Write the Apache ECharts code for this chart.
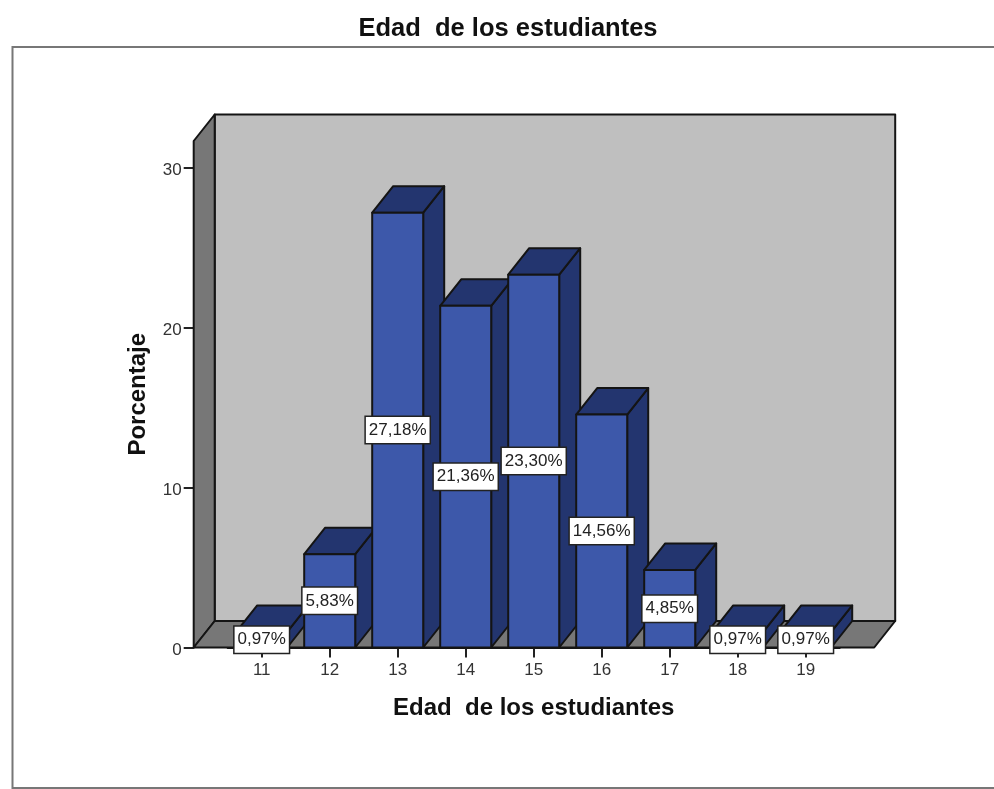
<!DOCTYPE html>
<html>
<head>
<meta charset="UTF-8">
<title>Edad de los estudiantes</title>
<script src="https://cdn.jsdelivr.net/npm/echarts@6/dist/echarts.min.js"></script>
<style>
html, body { margin: 0; padding: 0; background: #fff; }
#main { width: 994px; height: 789px; }
</style>
</head>
<body>
<div id="main"></div>
<script>
var edades = ['11', '12', '13', '14', '15', '16', '17', '18', '19'];
var porcentajes = [0.97, 5.83, 27.18, 21.36, 23.30, 14.56, 4.85, 0.97, 0.97];
var tituloTexto = 'Edad  de los estudiantes';
var ejeY = 'Porcentaje';

var FONT = '"Liberation Sans", Arial, sans-serif';
var DX = 21, DY = 26.5;
var LINEA = { stroke: '#141414', lineWidth: 2, lineJoin: 'round' };

function poly(points, fill) {
	return {
		type: 'polygon',
		shape: { points: points },
		style: Object.assign({ fill: fill }, LINEA)
	};
}

// paredes y suelo del grafico 3D
function renderWalls(params, api) {
	var g = params.coordSys;
	var l = g.x - 34, r = g.x + g.width + 34.5, t = g.y, b = g.y + g.height;
	return {
		type: 'group',
		children: [
			poly([[l + DX, t - DY], [r + DX, t - DY], [r + DX, b - DY], [l + DX, b - DY]], '#bfbfbf'),
			poly([[l, t], [l + DX, t - DY], [l + DX, b - DY], [l, b]], '#777777'),
			poly([[l, b], [l + DX, b - DY], [r + DX, b - DY], [r, b]], '#777777')
		]
	};
}

function renderBar(params, api) {
	var top = api.coord([api.value(0), api.value(1)]);
	var base = api.coord([api.value(0), 0]);
	var w = api.size([1, 0])[0] * 0.75;
	var x0 = top[0] - w / 2, x1 = top[0] + w / 2, y0 = top[1], y1 = base[1];
	return {
		type: 'group',
		children: [
			poly([[x1, y1], [x1 + DX, y1 - DY], [x1 + DX, y0 - DY], [x1, y0]], '#23356f'),
			poly([[x0, y0], [x0 + DX, y0 - DY], [x1 + DX, y0 - DY], [x1, y0]], '#23356f'),
			poly([[x0, y0], [x1, y0], [x1, y1], [x0, y1]], '#3d58aa')
		]
	};
}

function renderLabel(params, api) {
	var v = api.value(1);
	var p = api.coord([api.value(0), v / 2]);
	return {
		type: 'text',
		x: p[0],
		y: p[1],
		style: {
			text: v.toFixed(2).replace('.', ',') + '%',
			font: '17px ' + FONT,
			fill: '#222',
			align: 'center',
			verticalAlign: 'middle',
			backgroundColor: '#fff',
			borderColor: '#222',
			borderWidth: 1.5,
			padding: [4, 3, 5, 3]
		}
	};
}

var puntos = edades.map(function (e, i) { return [i, porcentajes[i]]; });

var myChart = echarts.init(document.getElementById('main'), null, { renderer: 'canvas' });
myChart.setOption({
	backgroundColor: '#fff',
	animation: false,
	title: {
		text: tituloTexto,
		left: 503,
		top: 11,
		textAlign: 'center',
		textStyle: { fontFamily: FONT, fontSize: 25.5, fontWeight: 'bold', color: '#111' }
	},
	grid: { left: 227.7, top: 141, width: 612, height: 506.5 },
	xAxis: {
		type: 'category',
		data: edades,
		name: tituloTexto,
		nameLocation: 'middle',
		nameGap: 49,
		nameTextStyle: { fontFamily: FONT, fontSize: 24, fontWeight: 'bold', color: '#111' },
		axisLine: { show: true, lineStyle: { color: '#141414', width: 2 } },
		axisTick: { show: true, alignWithLabel: true, length: 10, lineStyle: { color: '#222', width: 2 } },
		axisLabel: { show: true, margin: 14, fontFamily: FONT, fontSize: 17, color: '#333' }
	},
	yAxis: {
		type: 'value',
		min: 0,
		max: 31.66,
		interval: 10,
		offset: 34,
		name: ejeY,
		nameLocation: 'middle',
		nameGap: 43,
		nameTextStyle: { fontFamily: FONT, fontSize: 24, fontWeight: 'bold', color: '#111' },
		splitLine: { show: false },
		axisLine: { show: true, lineStyle: { color: '#141414', width: 2 } },
		axisTick: { show: true, length: 10, lineStyle: { color: '#222', width: 2 } },
		axisLabel: { margin: 12, verticalAlign: 'top', lineHeight: 5, fontFamily: FONT, fontSize: 17, color: '#333', showMaxLabel: false }
	},
	series: [
		{ type: 'custom', z: 1, clip: false, silent: true, renderItem: renderWalls, data: [[0, 0]] },
		{ type: 'custom', z: 2, clip: false, renderItem: renderBar, data: puntos },
		{ type: 'custom', z: 3, clip: false, renderItem: renderLabel, data: puntos }
	],
	graphic: [
		{ type: 'polyline', silent: true, shape: { points: [[994, 47], [12.5, 47], [12.5, 788], [994, 788]] },
			style: { fill: 'none', stroke: '#777', lineWidth: 2 } }
	]
});
</script>
</body>
</html>
